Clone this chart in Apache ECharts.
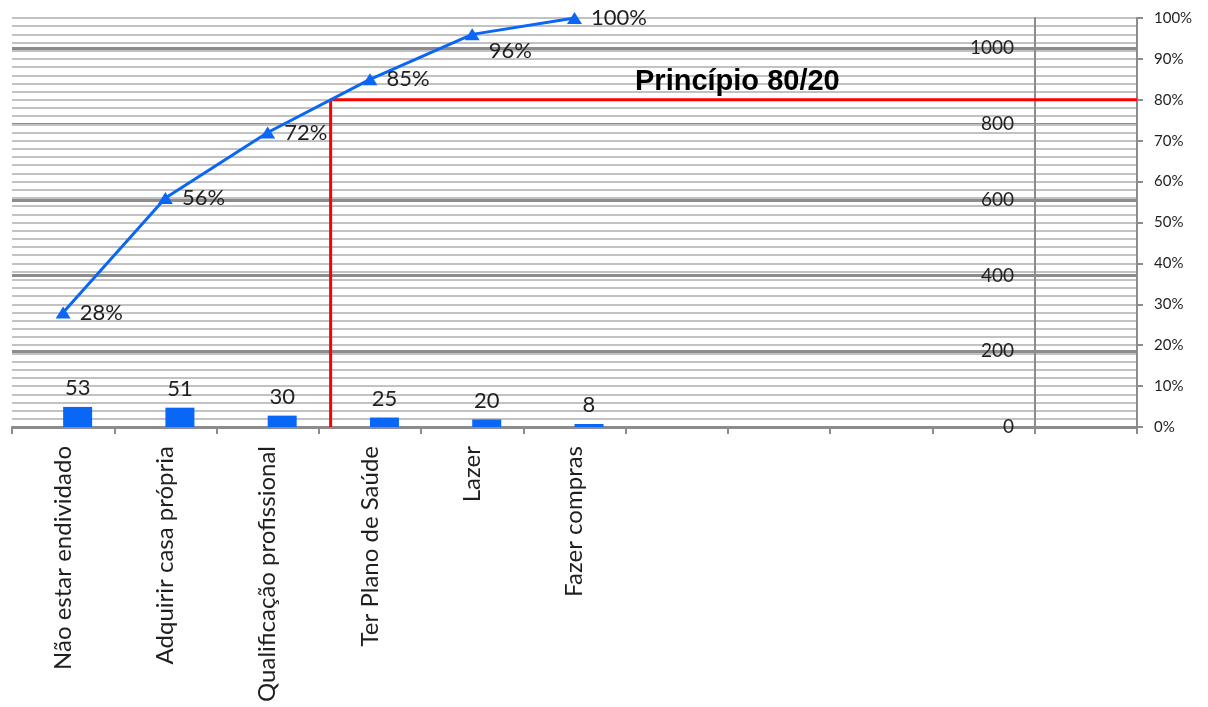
<!DOCTYPE html>
<html>
<head>
<meta charset="utf-8">
<script src="https://cdn.jsdelivr.net/npm/echarts@6/dist/echarts.min.js"></script>
<style>
  html, body { margin: 0; padding: 0; background: #ffffff; }
  #chart { width: 1208px; height: 707px; }
</style>
</head>
<body>
<div id="chart"></div>
<script>
// Categories of the Pareto chart (the trailing empty slots keep the axis width)
const categories = [
  'Não estar endividado',
  'Adquirir casa própria',
  'Qualificação profissional',
  'Ter Plano de Saúde',
  'Lazer',
  'Fazer compras',
  '', '', '', '', ''
];
// Number of answers per category
const counts = [53, 51, 30, 25, 20, 8];
// Cumulative share, in percent
const cumulativePct = [28, 56, 72, 85, 96, 100];
// Pareto threshold
const threshold = 80;
const chartTitle = 'Princípio 80/20';

const FONT = 'Lato, "Open Sans", sans-serif';
const BLUE = '#0a66f5';
const AXIS_GRAY = '#8c8c8c';
const GRID_LIGHT = '#c2c2c2';
const TEXT = '#1f1f1f';

// Position (in category units, slot i spans [i, i+1]) where the cumulative curve reaches the threshold
function thresholdX() {
  for (let i = 0; i < cumulativePct.length - 1; i++) {
    const a = cumulativePct[i], b = cumulativePct[i + 1];
    if (a < threshold && b >= threshold) {
      return i + 0.5 + (threshold - a) / (b - a);
    }
  }
  return cumulativePct.length - 0.5;
}
const xCut = thresholdX();
const nSlots = categories.length;

const chart = echarts.init(document.getElementById('chart'), null, { renderer: 'canvas' });

const primaryMax = 1080;
const primarySplitColors = [];
for (let v = 0; v <= primaryMax; v += 200) primarySplitColors.push(AXIS_GRAY);
primarySplitColors.push('rgba(0,0,0,0)');

const option = {
  backgroundColor: '#ffffff',
  animation: false,
  textStyle: { fontFamily: FONT },
  title: {
    text: chartTitle,
    left: 630,
    top: 62,
    textStyle: {
      fontFamily: '"Liberation Sans", Arial, sans-serif',
      fontWeight: 'bold',
      fontSize: 29,
      color: '#000000'
    }
  },
  grid: { left: 12, right: 71, top: 18, bottom: 280, containLabel: false },
  xAxis: [
    {
      type: 'category',
      data: categories,
      boundaryGap: true,
      axisLine: { show: true, lineStyle: { color: AXIS_GRAY, width: 2 } },
      axisTick: { show: true, length: 7, lineStyle: { color: AXIS_GRAY, width: 2 } },
      axisLabel: {
        rotate: 90,
        interval: 0,
        margin: 19,
        fontSize: 24,
        color: TEXT,
        fontFamily: FONT
      },
      splitLine: { show: false }
    },
    {
      // hidden linear axis over the same slots, used for the threshold guide
      type: 'value',
      min: 0,
      max: nSlots,
      show: false
    }
  ],
  yAxis: [
    {
      type: 'value',
      position: 'left',
      offset: -(1035 - 12),
      min: 0,
      max: primaryMax,
      interval: 200,
      axisLine: { show: true, lineStyle: { color: AXIS_GRAY, width: 2 } },
      axisTick: { show: false },
      axisLabel: {
        showMaxLabel: false,
        formatter: (v) => String(v),
        margin: 21,
        fontSize: 19,
        color: TEXT,
        fontFamily: FONT
      },
      splitLine: { show: true, lineStyle: { color: primarySplitColors, width: 3 } }
    },
    {
      type: 'value',
      position: 'right',
      min: 0,
      max: 100,
      interval: 10,
      axisLine: { show: true, lineStyle: { color: AXIS_GRAY, width: 2 } },
      axisTick: { show: true, length: 6, lineStyle: { color: AXIS_GRAY, width: 2 } },
      axisLabel: {
        formatter: '{value}%',
        margin: 17,
        fontSize: 15,
        color: TEXT,
        fontFamily: FONT
      },
      splitLine: { show: true, lineStyle: { color: GRID_LIGHT, width: 2 } },
      minorTick: { show: false, splitNumber: 5 },
      minorSplitLine: { show: true, lineStyle: { color: GRID_LIGHT, width: 2 } }
    }
  ],
  series: [
    {
      // empty companion column: puts the counts in the right half of each slot
      name: 'base',
      type: 'bar',
      xAxisIndex: 0,
      yAxisIndex: 0,
      data: [],
      barWidth: 29,
      barGap: '0%',
      silent: true
    },
    {
      name: 'Quantidade',
      type: 'bar',
      xAxisIndex: 0,
      yAxisIndex: 0,
      data: counts,
      barWidth: 29,
      barGap: '0%',
      itemStyle: { color: BLUE },
      label: {
        show: true,
        position: 'top',
        distance: 8,
        fontSize: 22,
        color: TEXT,
        fontFamily: FONT
      },
      z: 3
    },
    {
      name: 'Acumulado',
      type: 'line',
      xAxisIndex: 0,
      yAxisIndex: 1,
      data: cumulativePct.map((v, i) => {
        const item = { value: v };
        if (i === 4) item.label = { offset: [0, 17] };
        return item;
      }),
      symbol: 'triangle',
      symbolSize: [15, 12],
      showAllSymbol: true,
      lineStyle: { color: BLUE, width: 3 },
      itemStyle: { color: BLUE },
      label: {
        show: true,
        position: 'right',
        distance: 9,
        formatter: '{c}%',
        fontSize: 22,
        color: TEXT,
        fontFamily: FONT
      },
      z: 5
    },
    {
      name: 'Limite',
      type: 'line',
      xAxisIndex: 1,
      yAxisIndex: 1,
      data: [[xCut, 0], [xCut, threshold], [nSlots, threshold]],
      symbol: 'none',
      lineStyle: { color: '#ff0000', width: 3 },
      silent: true,
      z: 4
    }
  ]
};

chart.setOption(option);
</script>
</body>
</html>
